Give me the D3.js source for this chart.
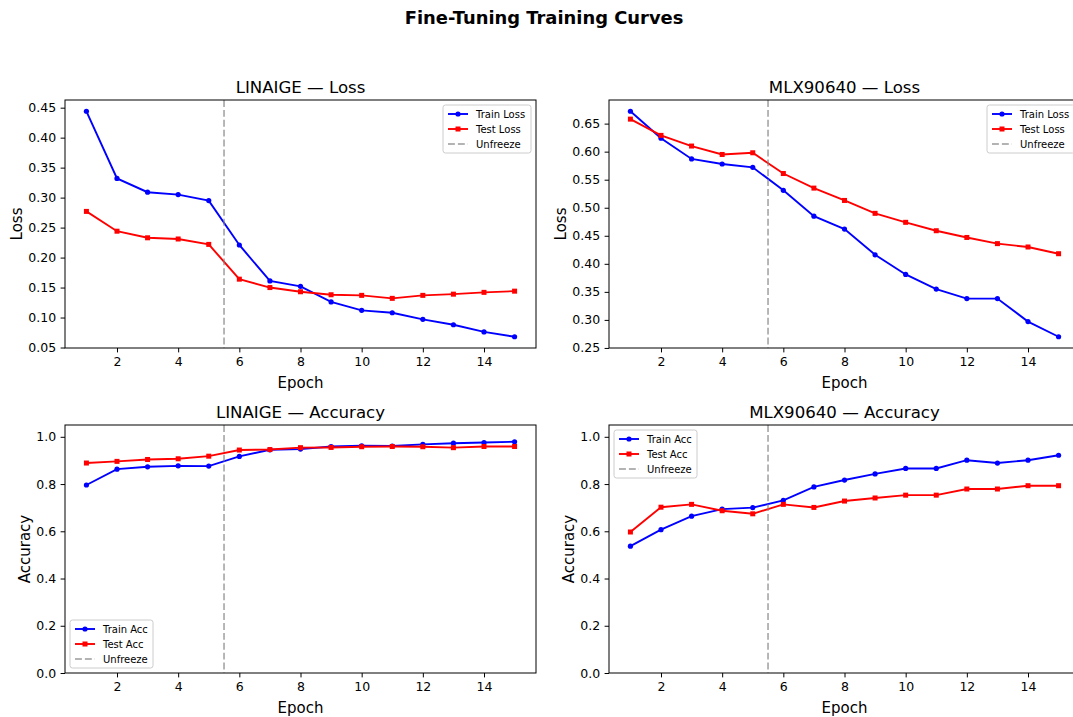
<!DOCTYPE html>
<html><head><meta charset="utf-8">
<script src="https://cdn.jsdelivr.net/npm/d3@7"></script>
<style>
body{margin:0;background:#fff;}
svg{display:block;}
text{font-family:"DejaVu Sans",sans-serif;fill:#000;}
</style>
</head><body>
<svg id="c" width="1073" height="717"></svg>
<script>
// ---------------- DATA ----------------
const epochs = [1,2,3,4,5,6,7,8,9,10,11,12,13,14,15];
const unfreezeEpoch = 5.5;
const linaigeTrainLoss = [0.444,0.332,0.309,0.305,0.295,0.221,0.161,0.152,0.126,0.112,0.108,0.097,0.088,0.076,0.068];
const linaigeTestLoss  = [0.277,0.244,0.233,0.231,0.222,0.164,0.150,0.143,0.138,0.137,0.132,0.137,0.139,0.142,0.144];
const mlxTrainLoss     = [0.672,0.624,0.587,0.578,0.572,0.531,0.485,0.462,0.416,0.381,0.355,0.338,0.338,0.297,0.270];
const mlxTestLoss      = [0.658,0.629,0.610,0.595,0.598,0.561,0.535,0.513,0.490,0.474,0.459,0.447,0.436,0.430,0.418];
const linaigeTrainAcc  = [0.796,0.863,0.873,0.877,0.876,0.917,0.945,0.948,0.959,0.962,0.961,0.968,0.973,0.976,0.979];
const linaigeTestAcc   = [0.889,0.896,0.904,0.907,0.918,0.944,0.946,0.954,0.955,0.958,0.959,0.958,0.954,0.959,0.959];
const mlxTrainAcc      = [0.537,0.607,0.664,0.694,0.700,0.731,0.788,0.817,0.843,0.866,0.866,0.901,0.889,0.901,0.922];
const mlxTestAcc       = [0.597,0.702,0.714,0.687,0.674,0.714,0.701,0.728,0.741,0.753,0.753,0.779,0.779,0.793,0.793];
const xTicks = [2,4,6,8,10,12,14];
const linaigeLossTicks = [0.05,0.10,0.15,0.20,0.25,0.30,0.35,0.40,0.45];
const mlxLossTicks = [0.25,0.30,0.35,0.40,0.45,0.50,0.55,0.60,0.65];
const accTicks = [0.0,0.2,0.4,0.6,0.8,1.0];
const titles = ["LINAIGE — Loss","MLX90640 — Loss","LINAIGE — Accuracy","MLX90640 — Accuracy"];

// ---------------- DRAW ----------------
const svg = d3.select("#c");
svg.append("rect").attr("width",1073).attr("height",717).attr("fill","#fff");
svg.append("text").attr("x",544).attr("y",24).attr("text-anchor","middle")
  .style("font-size","17.9px").style("font-weight","bold").text("Fine-Tuning Training Curves");

function padded(a,b){
  const mn = d3.min(a.concat(b)), mx = d3.max(a.concat(b));
  const m = (mx-mn)*0.05; return [mn-m, mx+m];
}

function panel(o){
  const g = svg.append("g").attr("transform",`translate(${o.x0},${o.y0})`);
  const x = d3.scaleLinear().domain([0.3,15.7]).range([0,o.w]);
  const y = d3.scaleLinear().domain(o.yDomain).range([o.h,0]);
  const xa = g.append("g").attr("transform",`translate(0,${o.h})`)
    .call(d3.axisBottom(x).tickValues(xTicks).tickSize(4.4).tickPadding(4.4).tickFormat(d3.format("d")));
  const ya = g.append("g")
    .call(d3.axisLeft(y).tickValues(o.yTicks).tickSize(4.4).tickPadding(4.4).tickFormat(d3.format(o.yFmt)));
  [xa,ya].forEach(a=>{
    a.select(".domain").remove();
    a.selectAll("line").attr("stroke","#000").attr("stroke-width",1);
    a.selectAll("text").style("font-size","12.5px").style("font-family","DejaVu Sans").attr("fill","#000");
  });
  const line = d3.line().x((d,i)=>x(epochs[i])).y(d=>y(d));
  g.append("path").datum(o.train).attr("d",line).attr("fill","none").attr("stroke","#0000ff").attr("stroke-width",1.9);
  g.selectAll(".pc").data(o.train).enter().append("circle")
    .attr("cx",(d,i)=>x(epochs[i])).attr("cy",d=>y(d)).attr("r",2.6).attr("fill","#0000ff");
  g.append("path").datum(o.test).attr("d",line).attr("fill","none").attr("stroke","#ff0000").attr("stroke-width",1.9);
  g.selectAll(".ps").data(o.test).enter().append("rect")
    .attr("x",(d,i)=>x(epochs[i])-2.5).attr("y",d=>y(d)-2.5).attr("width",5).attr("height",5).attr("fill","#ff0000");
  g.append("line").attr("x1",x(unfreezeEpoch)).attr("x2",x(unfreezeEpoch)).attr("y1",0).attr("y2",o.h)
    .attr("stroke","#808080").attr("stroke-opacity",0.6).attr("stroke-width",1.9).attr("stroke-dasharray","6.9,3");
  g.append("rect").attr("x",0).attr("y",0).attr("width",o.w).attr("height",o.h)
    .attr("fill","none").attr("stroke","#000").attr("stroke-width",1);
  g.append("text").attr("x",o.w/2).attr("y",-7.5).attr("text-anchor","middle").style("font-size","16.6px").text(o.title);
  g.append("text").attr("x",o.w/2).attr("y",o.h+40).attr("text-anchor","middle").style("font-size","15px").text("Epoch");
  g.append("text").attr("transform",`translate(${o.ylx},${o.h/2}) rotate(-90)`).attr("text-anchor","middle")
    .style("font-size","15px").text(o.ylabel);
  const items = [
    {label:o.trainLabel, color:"#0000ff", mk:"c", dash:null},
    {label:o.testLabel, color:"#ff0000", mk:"s", dash:null},
    {label:"Unfreeze", color:"#808080", mk:null, dash:"6.9,3"}
  ];
  const lg = g.append("g");
  const bw = o.lw, bh = 48;
  let lx, ly;
  if(o.legend==="ur"){ lx = o.w-5-bw; ly = 5; }
  else if(o.legend==="ul"){ lx = 5; ly = 5; }
  else { lx = 5; ly = o.h-5-bh; }
  lg.attr("transform",`translate(${lx},${ly})`);
  lg.append("rect").attr("width",bw).attr("height",bh).attr("rx",2.5)
    .attr("fill","#fff").attr("fill-opacity",0.8).attr("stroke","#cccccc").attr("stroke-width",1);
  items.forEach((it,i)=>{
    const cy = 9 + i*15;
    const ln = lg.append("line").attr("x1",5).attr("x2",25).attr("y1",cy).attr("y2",cy)
      .attr("stroke",it.color).attr("stroke-width",1.9);
    if(it.dash){ ln.attr("stroke-opacity",0.6).attr("stroke-dasharray",it.dash); }
    if(it.mk==="c") lg.append("circle").attr("cx",15).attr("cy",cy).attr("r",2.6).attr("fill",it.color);
    if(it.mk==="s") lg.append("rect").attr("x",12.5).attr("y",cy-2.5).attr("width",5).attr("height",5).attr("fill",it.color);
    lg.append("text").attr("x",33).attr("y",cy+3.6).style("font-size","10px").text(it.label);
  });
}

const W = 471, H = 248;
panel({x0:65, y0:100, w:W, h:H, title:titles[0], ylabel:"Loss", ylx:-43,
  train:linaigeTrainLoss, test:linaigeTestLoss, trainLabel:"Train Loss", testLabel:"Test Loss",
  yDomain:padded(linaigeTrainLoss,linaigeTestLoss), yTicks:linaigeLossTicks, yFmt:".2f", legend:"ur", lw:88});
panel({x0:609, y0:100, w:W, h:H, title:titles[1], ylabel:"Loss", ylx:-43,
  train:mlxTrainLoss, test:mlxTestLoss, trainLabel:"Train Loss", testLabel:"Test Loss",
  yDomain:padded(mlxTrainLoss,mlxTestLoss), yTicks:mlxLossTicks, yFmt:".2f", legend:"ur", lw:88});
panel({x0:65, y0:425, w:W, h:H, title:titles[2], ylabel:"Accuracy", ylx:-35,
  train:linaigeTrainAcc, test:linaigeTestAcc, trainLabel:"Train Acc", testLabel:"Test Acc",
  yDomain:[0,1.05], yTicks:accTicks, yFmt:".1f", legend:"ll", lw:83});
panel({x0:609, y0:425, w:W, h:H, title:titles[3], ylabel:"Accuracy", ylx:-35,
  train:mlxTrainAcc, test:mlxTestAcc, trainLabel:"Train Acc", testLabel:"Test Acc",
  yDomain:[0,1.05], yTicks:accTicks, yFmt:".1f", legend:"ul", lw:83});
</script>
</body></html>
